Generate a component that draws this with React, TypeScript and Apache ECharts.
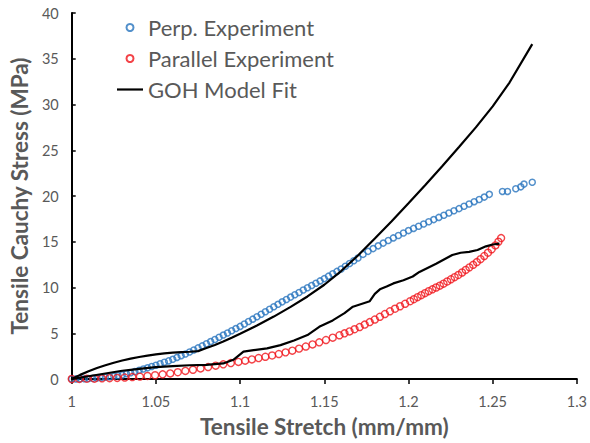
import React, { useEffect, useRef } from "react";
import * as echarts from "echarts";

// Perpendicular experiment (blue hollow circles)
const perpStretch = [
  1.0, 1.0025, 1.005, 1.0075, 1.01, 1.0125, 1.015, 1.0175, 1.02, 1.0225, 1.025, 1.0275, 1.03, 1.0325, 1.035, 1.0375,
  1.04, 1.0425, 1.045, 1.0475, 1.05, 1.0525, 1.055, 1.0575, 1.06, 1.0625, 1.065, 1.0675, 1.07, 1.0725, 1.075, 1.0775,
  1.08, 1.0825, 1.085, 1.0875, 1.09, 1.0925, 1.095, 1.0975, 1.1, 1.1025, 1.105, 1.1075, 1.11, 1.1125, 1.115, 1.1175,
  1.12, 1.1225, 1.125, 1.1275, 1.13, 1.1325, 1.135, 1.1375, 1.14, 1.1425, 1.145, 1.1475, 1.15, 1.1525, 1.155, 1.1575,
  1.16, 1.1625, 1.165, 1.1675, 1.17,
  1.173, 1.176, 1.179, 1.182, 1.185, 1.188, 1.191, 1.194, 1.197, 1.2, 1.203, 1.206, 1.209, 1.212, 1.215, 1.218, 1.221,
  1.224, 1.227, 1.23, 1.233, 1.236, 1.239, 1.242, 1.245, 1.248,
  1.2558, 1.2588, 1.2637, 1.2667, 1.2686, 1.2735,
];
const perpStress = [
  0.0, 0.01, 0.02, 0.03, 0.05, 0.07, 0.11, 0.15, 0.2, 0.25, 0.31, 0.37, 0.45, 0.57, 0.69, 0.82,
  0.95, 1.09, 1.22, 1.37, 1.5, 1.66, 1.83, 1.98, 2.15, 2.36, 2.55, 2.74, 2.95, 3.17, 3.4, 3.62,
  3.85, 4.09, 4.32, 4.57, 4.8, 5.03, 5.28, 5.51, 5.75, 6.01, 6.28, 6.54, 6.8, 7.08, 7.35, 7.63,
  7.9, 8.16, 8.43, 8.69, 8.95, 9.21, 9.46, 9.72, 9.97, 10.22, 10.47, 10.72, 10.97, 11.24, 11.5, 11.76,
  12.02, 12.32, 12.62, 12.92, 13.22,
  13.62, 13.95, 14.25, 14.55, 14.85, 15.14, 15.42, 15.68, 15.95, 16.22, 16.46, 16.7, 16.94, 17.18, 17.42, 17.66, 17.9,
  18.14, 18.38, 18.62, 18.88, 19.12, 19.38, 19.62, 19.88, 20.18,
  20.5, 20.5, 20.8, 21.0, 21.3, 21.5,
];

// Parallel experiment (red hollow circles)
const parStretch = [
  1.0, 1.0045, 1.009, 1.0135, 1.018, 1.0225, 1.027, 1.0315, 1.036, 1.0405, 1.045, 1.0495, 1.054, 1.0585, 1.063, 1.0675,
  1.072, 1.0765, 1.081, 1.0855, 1.09, 1.0945, 1.099, 1.103, 1.107, 1.111, 1.115, 1.119, 1.123, 1.127, 1.131, 1.135,
  1.139, 1.143, 1.147, 1.151, 1.155, 1.159, 1.162, 1.165, 1.168, 1.171, 1.174, 1.177, 1.18, 1.183, 1.186, 1.189,
  1.192, 1.195, 1.198, 1.201, 1.2032, 1.2054, 1.2076, 1.2098, 1.212, 1.2142, 1.2164, 1.2186, 1.2208, 1.223, 1.2252,
  1.2274, 1.2296, 1.2318, 1.234, 1.2362, 1.2384, 1.2406, 1.2428, 1.245, 1.2472, 1.2494, 1.2516, 1.2534, 1.255,
];
const parStress = [
  0.0, 0.01, 0.03, 0.04, 0.07, 0.09, 0.12, 0.16, 0.21, 0.26, 0.33, 0.41, 0.51, 0.61, 0.74, 0.88,
  1.01, 1.16, 1.31, 1.46, 1.6, 1.74, 1.87, 2.0, 2.14, 2.29, 2.43, 2.57, 2.73, 2.91, 3.1, 3.32,
  3.55, 3.78, 4.01, 4.26, 4.52, 4.78, 4.99, 5.2, 5.44, 5.68, 5.95, 6.22, 6.5, 6.8, 7.1, 7.4,
  7.68, 7.95, 8.22, 8.5, 8.72, 8.94, 9.16, 9.38, 9.6, 9.8, 10.0, 10.2, 10.42, 10.66, 10.9,
  11.13, 11.37, 11.64, 11.92, 12.2, 12.48, 12.78, 13.1, 13.44, 13.8, 14.18, 14.6, 15.0, 15.4,
];

// GOH model fit to perpendicular data (upper black curve)
const fitPerpStretch = [
  1.0, 1.005, 1.01, 1.015, 1.02, 1.025, 1.03, 1.035, 1.04, 1.045, 1.05, 1.055, 1.06, 1.065, 1.07, 1.075,
  1.08, 1.085, 1.09, 1.095, 1.1, 1.11, 1.12, 1.13, 1.14, 1.15, 1.16, 1.17, 1.18, 1.19, 1.2, 1.21, 1.22,
  1.23, 1.24, 1.25, 1.26, 1.2735,
];
const fitPerpStress = [
  0.0, 0.45, 0.85, 1.2, 1.5, 1.78, 2.02, 2.22, 2.4, 2.56, 2.7, 2.8, 2.88, 2.94, 2.98, 3.05,
  3.38, 3.72, 4.1, 4.52, 4.95, 5.85, 6.82, 7.88, 9.02, 10.3, 11.8, 13.5, 15.35, 17.25, 19.2, 21.2, 23.25,
  25.35, 27.5, 29.8, 32.4, 36.6,
];

// GOH model fit to parallel data (lower black curve)
const fitParStretch = [
  1.0, 1.01, 1.02, 1.03, 1.035, 1.04, 1.05, 1.06, 1.07, 1.08, 1.09, 1.096, 1.102, 1.108, 1.116, 1.124,
  1.132, 1.14, 1.147, 1.155, 1.162, 1.167, 1.172, 1.177, 1.18, 1.183, 1.187, 1.191, 1.197, 1.2025, 1.2065,
  1.2164, 1.226, 1.231, 1.236, 1.241, 1.246, 1.25, 1.254,
];
const fitParStress = [
  0.0, 0.3, 0.6, 0.9, 1.0, 1.1, 1.3, 1.4, 1.5, 1.55, 1.7, 2.1, 3.0, 3.15, 3.35, 3.7,
  4.2, 4.8, 5.7, 6.4, 7.2, 7.9, 8.2, 8.5, 9.3, 9.8, 10.1, 10.45, 10.8, 11.2, 11.7,
  12.6, 13.55, 13.8, 13.9, 14.1, 14.5, 14.7, 14.8,
];

const seriesNames = ["Perp. Experiment", "Parallel Experiment", "GOH Model Fit"];
const xAxisTitle = "Tensile Stretch (mm/mm)";
const yAxisTitle = "Tensile Cauchy Stress (MPa)";

const zip = (xs: number[], ys: number[]) => {
  const n = Math.min(xs.length, ys.length);
  const out: number[][] = [];
  for (let i = 0; i < n; i++) out.push([xs[i], ys[i]]);
  return out;
};

const FONT = "Lato";
const GREY = "#595959";
const BLUE = "#2874BE";
const RED = "#F0141A";

export default function App() {
  const ref = useRef<HTMLDivElement>(null);
  useEffect(() => {
    if (!ref.current) return;
    const chart = echarts.init(ref.current, undefined, { renderer: "svg" });
    chart.setOption({
      animation: false,
      backgroundColor: "#ffffff",
      grid: { left: 71, right: 12, top: 13, bottom: 64, containLabel: false },
      legend: {
        orient: "vertical",
        left: 112,
        top: 11,
        itemWidth: 26,
        itemHeight: 7,
        itemGap: 8,
        textStyle: { fontFamily: FONT, fontSize: 22, color: GREY, lineHeight: 23 },
        data: [
          { name: seriesNames[0] },
          { name: seriesNames[1] },
          { name: seriesNames[2], icon: "path://M0,0 L26,0 L26,2.2 L0,2.2 Z" },
        ],
      },
      xAxis: {
        type: "value",
        min: 1,
        max: 1.3,
        interval: 0.05,
        splitLine: { show: false },
        axisLine: { show: true, lineStyle: { color: "#000", width: 2 } },
        axisTick: { show: true, inside: false, length: 5, lineStyle: { color: "#000", width: 1.5 } },
        axisLabel: { color: GREY, fontFamily: FONT, fontSize: 14.5, margin: 15 },
        name: xAxisTitle,
        nameLocation: "middle",
        nameGap: 36,
        nameTextStyle: { fontFamily: FONT, fontWeight: "bold", fontSize: 22.5, color: GREY },
      },
      yAxis: {
        type: "value",
        min: 0,
        max: 40,
        interval: 5,
        splitLine: { show: false },
        axisLine: { show: true, lineStyle: { color: "#000", width: 2 } },
        axisTick: { show: true, inside: true, length: 4, lineStyle: { color: "#000", width: 1.5 } },
        axisLabel: { color: GREY, fontFamily: FONT, fontSize: 14.5, margin: 13 },
        name: yAxisTitle,
        nameLocation: "middle",
        nameGap: 35,
        nameTextStyle: { fontFamily: FONT, fontWeight: "bold", fontSize: 22.5, color: GREY },
      },
      series: [
        {
          type: "scatter",
          name: seriesNames[0],
          data: zip(perpStretch, perpStress),
          symbol: "circle",
          symbolSize: 6,
          itemStyle: { color: "rgba(255,255,255,0)", borderColor: BLUE, borderWidth: 1.5 },
          z: 2,
        },
        {
          type: "scatter",
          name: seriesNames[1],
          data: zip(parStretch, parStress),
          symbol: "circle",
          symbolSize: 7,
          itemStyle: { color: "rgba(255,255,255,0)", borderColor: RED, borderWidth: 1.4 },
          z: 2,
        },
        {
          type: "line",
          name: seriesNames[2],
          data: zip(fitPerpStretch, fitPerpStress),
          symbol: "none",
          showSymbol: false,
          lineStyle: { color: "#000", width: 2.2 },
          itemStyle: { color: "#000" },
          z: 3,
        },
        {
          type: "line",
          name: seriesNames[2],
          data: zip(fitParStretch, fitParStress),
          symbol: "none",
          showSymbol: false,
          lineStyle: { color: "#000", width: 2.2 },
          itemStyle: { color: "#000" },
          z: 3,
        },
      ],
    });
    return () => chart.dispose();
  }, []);
  return (
    <div
      ref={ref}
      style={{ position: "fixed", left: 0, top: 0, width: 590, height: 443, background: "#fff" }}
    />
  );
}
